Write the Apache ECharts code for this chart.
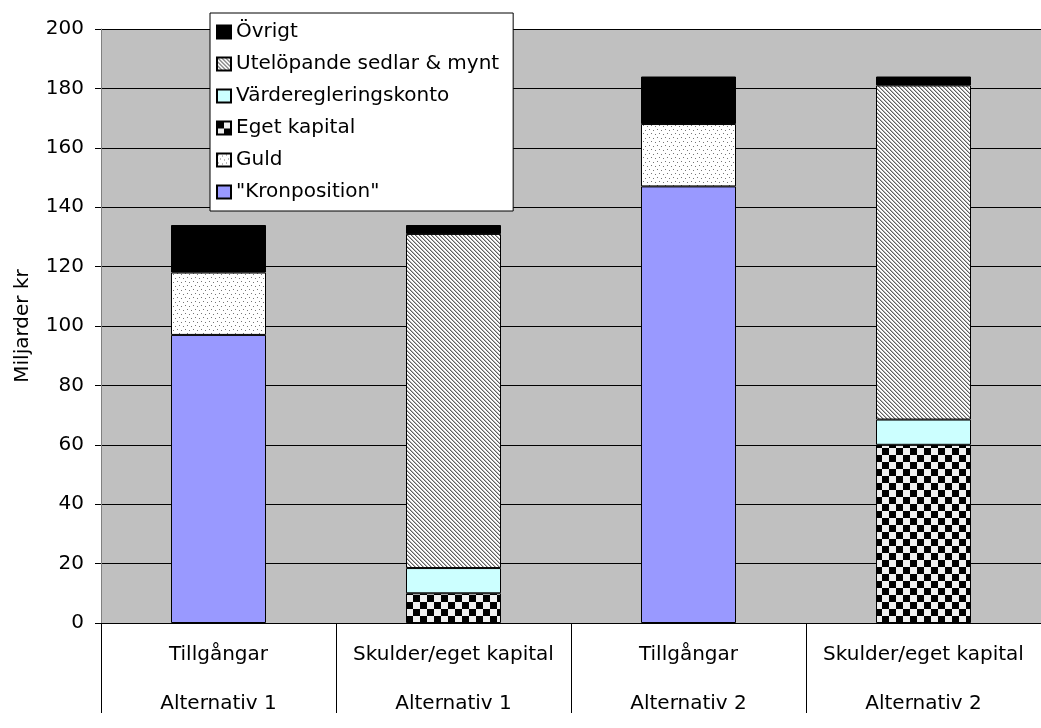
<!DOCTYPE html>
<html>
<head>
<meta charset="utf-8">
<script src="https://cdn.jsdelivr.net/npm/echarts@6/dist/echarts.min.js"></script>
<style>
  html, body { margin: 0; padding: 0; background: #fff; }
  #chart { width: 1041px; height: 728px; }
</style>
</head>
<body>
<div id="chart"></div>
<script>
// Category labels (two rows: side of balance sheet, alternative)
const sides = ['Tillgångar', 'Skulder/eget kapital', 'Tillgångar', 'Skulder/eget kapital'];
const alternatives = ['Alternativ 1', 'Alternativ 1', 'Alternativ 2', 'Alternativ 2'];

// Values, billions SEK ('-' = no part in that column)
const kronposition = [97, '-', 147, '-'];
const guld = [21, '-', 21, '-'];
const egetKapital = ['-', 10, '-', 60];
const varderegleringskonto = ['-', 8.5, '-', 8.5];
const utelopande = ['-', 112.5, '-', 112.5];
const ovrigt = [16, 3, 16, 3];

const yTicks = { min: 0, max: 200, interval: 20 };
const legendOrder = ['Övrigt', 'Utelöpande sedlar & mynt', 'Värderegleringskonto', 'Eget kapital', 'Guld', '"Kronposition"'];

// Small repeating fill tiles
function tile(w, h, draw) {
  const c = document.createElement('canvas');
  c.width = w; c.height = h;
  const g = c.getContext('2d');
  draw(g);
  return { image: c, repeat: 'repeat' };
}
const hatchFill = tile(4, 4, g => {
  g.fillStyle = '#ffffff'; g.fillRect(0, 0, 4, 4);
  for (let i = 0; i < 4; i++) {
    g.fillStyle = '#606060'; g.fillRect(i, i, 1, 1);
    g.fillStyle = '#b8b8b8'; g.fillRect((i + 1) % 4, i, 1, 1);
  }
});
const checkerFill = tile(14, 14, g => {
  g.fillStyle = '#f0f0f0'; g.fillRect(0, 0, 14, 14);
  g.fillStyle = '#000000'; g.fillRect(0, 0, 7, 7); g.fillRect(7, 7, 7, 7);
});
const dotFill = tile(8, 8, g => {
  g.fillStyle = '#ffffff'; g.fillRect(0, 0, 8, 8);
  g.fillStyle = '#777777';
  [[1, 1], [5, 2], [3, 5], [7, 6]].forEach(p => g.fillRect(p[0], p[1], 1, 1));
});

const font = "'DejaVu Sans', 'Liberation Sans', Arial, sans-serif";

function barSeries(name, data, color) {
  return {
    name, type: 'bar', stack: 'total', data,
    barWidth: 95,
    itemStyle: { color, borderColor: '#000', borderWidth: 1 },
    emphasis: { disabled: true }
  };
}

const chart = echarts.init(document.getElementById('chart'));
chart.setOption({
  animation: false,
  backgroundColor: '#ffffff',
  textStyle: { fontFamily: font },
  grid: {
    left: 101, top: 29, width: 952, height: 611,
    show: true, backgroundColor: '#c0c0c0', borderWidth: 0
  },
  legend: {
    orient: 'vertical',
    left: 210, top: 13,
    data: legendOrder,
    backgroundColor: '#ffffff',
    borderColor: '#000', borderWidth: 1,
    padding: [9, 14, 9, 6],
    itemWidth: 14, itemHeight: 13, itemGap: 12,
    icon: 'rect',
    textStyle: { fontFamily: font, fontSize: 20, color: '#000', lineHeight: 20 },
    selectedMode: false
  },
  xAxis: {
    type: 'category',
    data: sides.map((s, i) => s + '\n' + alternatives[i]),
    axisLine: { lineStyle: { color: '#000', width: 1 } },
    axisTick: { show: true, length: 90, interval: 0, lineStyle: { color: '#000' } },
    axisLabel: { interval: 0, fontSize: 20, color: '#000', lineHeight: 49, margin: 7, fontFamily: font },
    splitLine: { show: false }
  },
  yAxis: {
    type: 'value',
    min: yTicks.min, max: yTicks.max, interval: yTicks.interval,
    name: 'Miljarder kr',
    nameLocation: 'middle', nameGap: 68,
    nameTextStyle: { fontSize: 20, color: '#000', fontFamily: font },
    axisLine: { show: true, lineStyle: { color: '#808080' } },
    axisTick: { show: true, length: 6, lineStyle: { color: '#000' } },
    axisLabel: { fontSize: 20, color: '#000', margin: 17, fontFamily: font },
    splitLine: { show: true, lineStyle: { color: '#000', width: 1 } }
  },
  series: [
    barSeries('"Kronposition"', kronposition, '#9999ff'),
    barSeries('Guld', guld, dotFill),
    barSeries('Eget kapital', egetKapital, checkerFill),
    barSeries('Värderegleringskonto', varderegleringskonto, '#ccffff'),
    barSeries('Utelöpande sedlar & mynt', utelopande, hatchFill),
    barSeries('Övrigt', ovrigt, '#000000')
  ]
});
</script>
</body>
</html>
